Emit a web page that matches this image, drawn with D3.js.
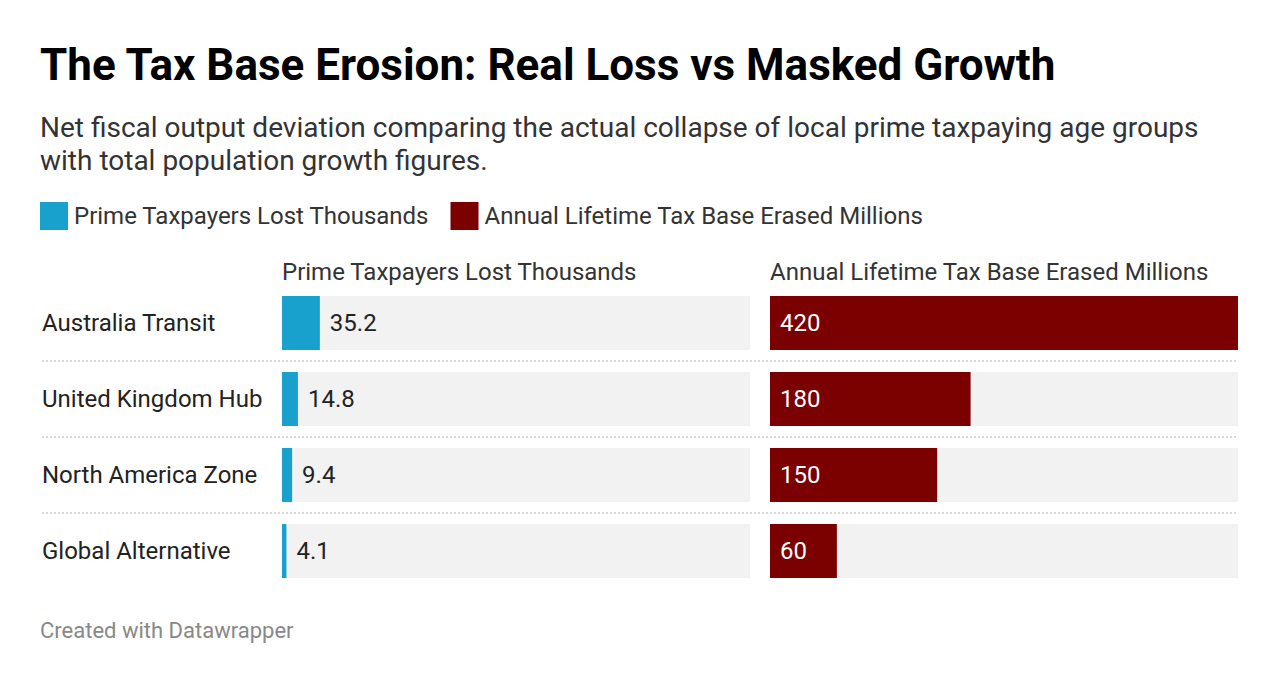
<!DOCTYPE html>
<html>
<head>
<meta charset="utf-8">
<script src="https://cdn.jsdelivr.net/npm/d3@7"></script>
<style>
  body { margin: 0; background: #fff; font-family: Roboto, "Noto Sans", sans-serif; }
  #canvas { width: 1280px; height: 684px; }
</style>
</head>
<body>
<div id="canvas"></div>
<script>
const categories = ["Australia Transit", "United Kingdom Hub", "North America Zone", "Global Alternative"];
const taxpayersLost = [35.2, 14.8, 9.4, 4.1];
const taxBaseErased = [420, 180, 150, 60];
const seriesNames = ["Prime Taxpayers Lost Thousands", "Annual Lifetime Tax Base Erased Millions"];
const seriesColors = ["#18a1cd", "#7b0000"];

const title = "The Tax Base Erosion: Real Loss vs Masked Growth";
const subtitle = [
  "Net fiscal output deviation comparing the actual collapse of local prime taxpaying age groups",
  "with total population growth figures."
];

const svg = d3.select("#canvas").append("svg")
  .attr("width", 1280)
  .attr("height", 684);

// titel + subtitel
svg.append("text")
  .attr("x", 40).attr("y", 80)
  .attr("font-size", 44).attr("font-weight", 700)
  .attr("fill", "#000")
  .text(title);

svg.selectAll(".sub")
  .data(subtitle)
  .join("text")
  .attr("class", "sub")
  .attr("x", 40)
  .attr("y", (d, i) => 137 + i * 33)
  .attr("font-size", 28)
  .attr("fill", "#333")
  .text(d => d);

// legende
let lx = 40;
seriesNames.forEach((name, i) => {
  const g = svg.append("g").attr("transform", `translate(${lx},202)`);
  g.append("rect").attr("width", 28).attr("height", 28).attr("fill", seriesColors[i]);
  const t = g.append("text")
    .attr("x", 34).attr("y", 22)
    .attr("font-size", 24).attr("fill", "#333")
    .text(name);
  lx += 34 + t.node().getComputedTextLength() + 22;
});

// rijen
const y = d3.scaleBand()
  .domain(categories)
  .range([296, 578])
  .paddingInner(22 / 76)
  .paddingOuter(0)
  .align(0);

const panels = [
  { x0: 282, values: taxpayersLost, max: 435 },
  { x0: 770, values: taxBaseErased, max: 420 }
];
const panelWidth = 468;

// scheidingslijnen
svg.selectAll(".sep")
  .data(categories.slice(1))
  .join("line")
  .attr("x1", 42).attr("x2", 1238)
  .attr("y1", d => y(d) - 11).attr("y2", d => y(d) - 11)
  .attr("stroke", "#ccc")
  .attr("stroke-width", 1.5)
  .attr("stroke-dasharray", "2,2");

// rijlabels
svg.selectAll(".cat")
  .data(categories)
  .join("text")
  .attr("x", 42)
  .attr("y", d => y(d) + y.bandwidth() / 2 + 8)
  .attr("font-size", 24)
  .attr("fill", "#222")
  .text(d => d);

panels.forEach((p, pi) => {
  const x = d3.scaleLinear().domain([0, p.max]).range([p.x0, p.x0 + panelWidth]);
  const g = svg.append("g");

  g.append("text")
    .attr("x", p.x0).attr("y", 280)
    .attr("font-size", 24).attr("fill", "#333")
    .text(seriesNames[pi]);

  g.selectAll(".bg")
    .data(categories)
    .join("rect")
    .attr("x", p.x0).attr("width", panelWidth)
    .attr("y", d => y(d)).attr("height", y.bandwidth())
    .attr("fill", "#f2f2f2");

  g.selectAll(".bar")
    .data(p.values)
    .join("rect")
    .attr("x", x(0))
    .attr("width", d => x(d) - x(0))
    .attr("y", (d, i) => y(categories[i]))
    .attr("height", y.bandwidth())
    .attr("fill", seriesColors[pi]);

  g.selectAll(".val")
    .data(p.values)
    .join("text")
    .attr("x", d => pi === 0 ? x(d) + 10 : x(0) + 10)
    .attr("y", (d, i) => y(categories[i]) + y.bandwidth() / 2 + 8)
    .attr("font-size", 24)
    .attr("fill", pi === 0 ? "#222" : "#fff")
    .text(d => d);
});

svg.append("text")
  .attr("x", 40).attr("y", 638)
  .attr("font-size", 22).attr("fill", "#888")
  .text("Created with Datawrapper");
</script>
</body>
</html>
